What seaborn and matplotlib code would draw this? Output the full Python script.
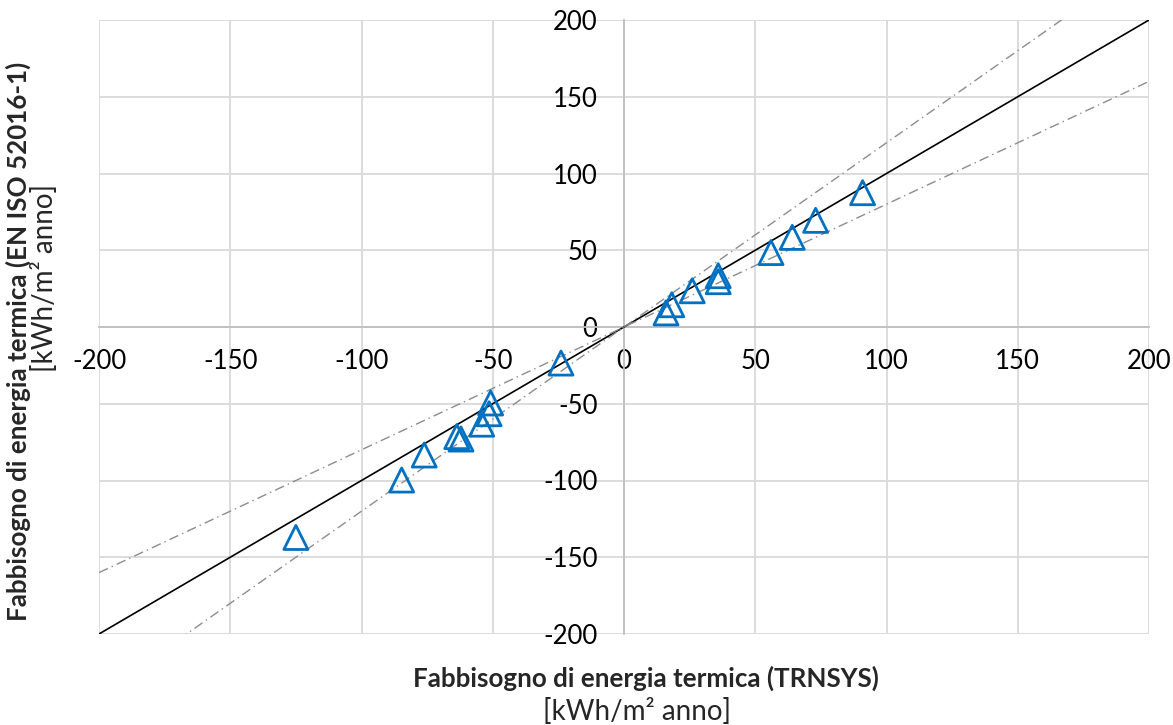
import matplotlib
matplotlib.use("Agg")
import matplotlib.pyplot as plt
import seaborn as sns
import numpy as np
import pandas as pd

# Data
x_trnsys = [16.0, 18.2, 26.0, 35.9, 35.9, 56.0, 64.1, 73.0, 90.9,
            -24.0, -50.8, -51.4, -54.2, -63.7, -62.1, -76.1, -84.7, -125.0]
y_iso = [9.2, 14.5, 23.6, 33.4, 29.5, 48.5, 58.4, 69.5, 87.5,
         -23.5, -49.5, -56.5, -63.3, -71.4, -73.0, -83.4, -99.7, -137.1]
ticks = [-200, -150, -100, -50, 0, 50, 100, 150, 200]
ref_slopes = [1.2, 0.8]

xlabel_bold = "Fabbisogno di energia termica (TRNSYS)"
ylabel_bold = "Fabbisogno di energia termica (EN ISO 52016-1)"
unit_label = "[kWh/m² anno]"

sns.set_theme(style="white")
plt.rcParams['font.family'] = ['Lato', 'DejaVu Sans']

fig = plt.figure(figsize=(11.73, 7.25), dpi=100)
ax = fig.add_axes([99/1173, 1-634/725, 1050/1173, 614/725])

df = pd.DataFrame({"x": x_trnsys, "y": y_iso})

line_x = np.array([-200, 200])
ax.plot(line_x, line_x, color="black", lw=1.2, zorder=3)
for s in ref_slopes:
    ax.plot(line_x, s * line_x, color="#8c8c8c", lw=1.0,
            linestyle=(0, (7, 3, 1, 3)), zorder=3)

sns.scatterplot(data=df, x="x", y="y", ax=ax, marker="^", s=300,
                facecolors="none", edgecolor="#0070C0", linewidth=2.0,
                zorder=4, legend=False)

ax.set_xlim(-200, 200)
ax.set_ylim(-200, 200)
ax.set_xticks(ticks)
ax.set_yticks(ticks)
ax.set_xticklabels([str(t) for t in ticks])
ax.set_yticklabels([str(t) for t in ticks])
ax.grid(True, color="#d9d9d9", lw=1.3)
ax.set_axisbelow(True)

for side in ["top", "right"]:
    ax.spines[side].set_visible(False)
for side in ["left", "bottom"]:
    ax.spines[side].set_position("zero")
    ax.spines[side].set_color("#bfbfbf")
    ax.spines[side].set_linewidth(1.3)
    ax.spines[side].set_zorder(2)

ax.tick_params(axis="both", length=0, labelsize=18.5, colors="black")
ax.tick_params(axis="y", pad=19)
ax.tick_params(axis="x", pad=16)
ax.set_xlabel("")
ax.set_ylabel("")

fig.text(646/1173, 1-678/725, xlabel_bold, ha="center", va="center",
         fontsize=18.7, fontweight="bold")
fig.text(637/1173, 1-711/725, unit_label, ha="center", va="center",
         fontsize=20)
fig.text(18/1173, 1-341/725, ylabel_bold, ha="center", va="center",
         fontsize=18.7, fontweight="bold", rotation=90)
fig.text(45/1173, 1-278/725, unit_label, ha="center", va="center",
         fontsize=20, rotation=90)

fig.savefig("out.png", dpi=100)
